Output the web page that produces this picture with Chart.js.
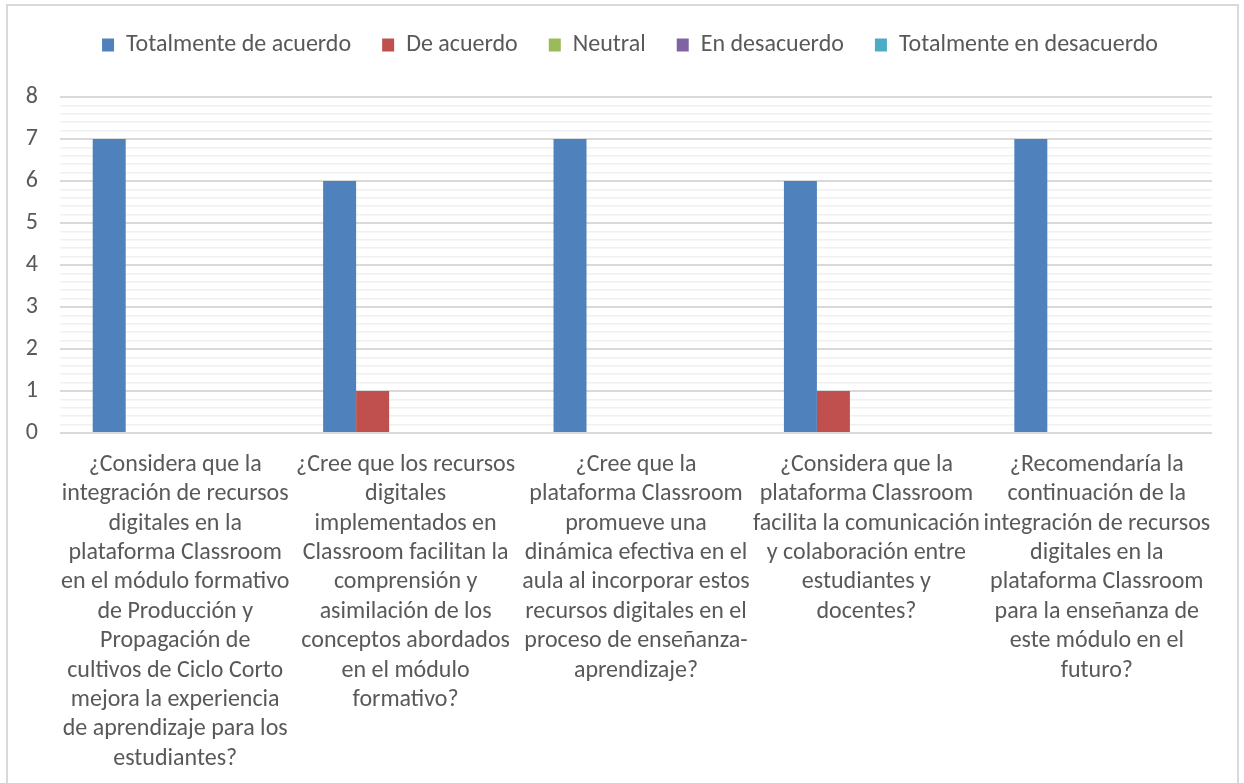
<!DOCTYPE html>
<html>
<head>
<meta charset="utf-8">
<script src="https://cdn.jsdelivr.net/npm/chart.js@4"></script>
<style>
    html, body { margin: 0; padding: 0; background: #fff; overflow: hidden; }
    #frame { position: absolute; left: 6px; top: 4px; width: 1233px; height: 800px; border: 2px solid #d9d9d9; box-sizing: border-box; }
    #wrap { position: absolute; left: 0; top: 0; width: 1244px; height: 783px; }
</style>
</head>
<body>
<div id="frame"></div>
<div id="wrap"><canvas id="myChart" width="1244" height="783"></canvas></div>
<script>
// Preguntas (categorías), ya cortadas en líneas como en el gráfico original
const categories = [
    ['¿Considera que la', 'integración de recursos', 'digitales en la', 'plataforma Classroom', 'en el módulo formativo', 'de Producción y', 'Propagación de', 'cultivos de Ciclo Corto', 'mejora la experiencia', 'de aprendizaje para los', 'estudiantes?'],
    ['¿Cree que los recursos', 'digitales', 'implementados en', 'Classroom facilitan la', 'comprensión y', 'asimilación de los', 'conceptos abordados', 'en el módulo', 'formativo?'],
    ['¿Cree que la', 'plataforma Classroom', 'promueve una', 'dinámica efectiva en el', 'aula al incorporar estos', 'recursos digitales en el', 'proceso de enseñanza-', 'aprendizaje?'],
    ['¿Considera que la', 'plataforma Classroom', 'facilita la comunicación', 'y colaboración entre', 'estudiantes y', 'docentes?'],
    ['¿Recomendaría la', 'continuación de la', 'integración de recursos', 'digitales en la', 'plataforma Classroom', 'para la enseñanza de', 'este módulo en el', 'futuro?']
];

const seriesNames = ['Totalmente de acuerdo', 'De acuerdo', 'Neutral', 'En desacuerdo', 'Totalmente en desacuerdo'];

const totalmenteDeAcuerdo = [7, 6, 7, 6, 7];
const deAcuerdo = [0, 1, 0, 1, 0];
const neutral = [0, 0, 0, 0, 0];
const enDesacuerdo = [0, 0, 0, 0, 0];
const totalmenteEnDesacuerdo = [0, 0, 0, 0, 0];

const yMin = 0;
const yMax = 8;
const yMinorStep = 0.2;

const colors = ['#4f81bd', '#c0504d', '#9bbb59', '#8064a2', '#4bacc6'];
const fontFamily = 'Carlito, Calibri, Lato, sans-serif';
const textColor = '#595959';

const seriesValues = [totalmenteDeAcuerdo, deAcuerdo, neutral, enDesacuerdo, totalmenteEnDesacuerdo];

const isMajor = v => Math.abs(v - Math.round(v)) < 1e-6;

// espacio bajo la leyenda y leyenda un poco a la derecha, como en Excel
const legendTweak = {
    id: 'legendTweak',
    beforeInit(chart) {
        const origFit = chart.legend.fit;
        chart.legend.fit = function () {
            origFit.bind(chart.legend)();
            this.height += 30;
        };
    },
    afterLayout(chart) {
        chart.legend.left += 20;
        chart.legend.right += 20;
    }
};

const ctx = document.getElementById('myChart').getContext('2d');
const chart = new Chart(ctx, {
    type: 'bar',
    data: {
        labels: categories,
        datasets: seriesNames.map((name, i) => ({
            label: name,
            data: seriesValues[i],
            backgroundColor: colors[i],
            borderWidth: 0,
            categoryPercentage: 0.716,
            barPercentage: 1
        }))
    },
    options: {
        responsive: false,
        animation: false,
        layout: { padding: { top: 2, left: 8, right: 32, bottom: 0 } },
        plugins: {
            tooltip: { enabled: false },
            legend: {
                position: 'top',
                labels: {
                    boxWidth: 12,
                    boxHeight: 13,
                    padding: 31,
                    color: textColor,
                    font: { family: fontFamily, size: 24 }
                }
            }
        },
        scales: {
            x: {
                grid: { display: false },
                border: { display: false },
                ticks: {
                    color: textColor,
                    font: { family: fontFamily, size: 24, lineHeight: 1.225 },
                    padding: 9,
                    maxRotation: 0,
                    autoSkip: false
                },
                afterFit: scale => { scale.height = 350; }
            },
            y: {
                min: yMin,
                max: yMax,
                border: { display: false },
                grid: {
                    drawTicks: false,
                    color: c => isMajor(c.tick.value) ? '#d9d9d9' : '#f0f0f0',
                    lineWidth: c => isMajor(c.tick.value) ? 2 : 1.5
                },
                ticks: {
                    stepSize: yMinorStep,
                    autoSkip: false,
                    color: textColor,
                    padding: 22,
                    font: { family: fontFamily, size: 24 },
                    callback: v => isMajor(v) ? String(Math.round(v)) : ''
                },
                afterFit: scale => { scale.width = 52; }
            }
        }
    },
    plugins: [legendTweak]
});
</script>
</body>
</html>
